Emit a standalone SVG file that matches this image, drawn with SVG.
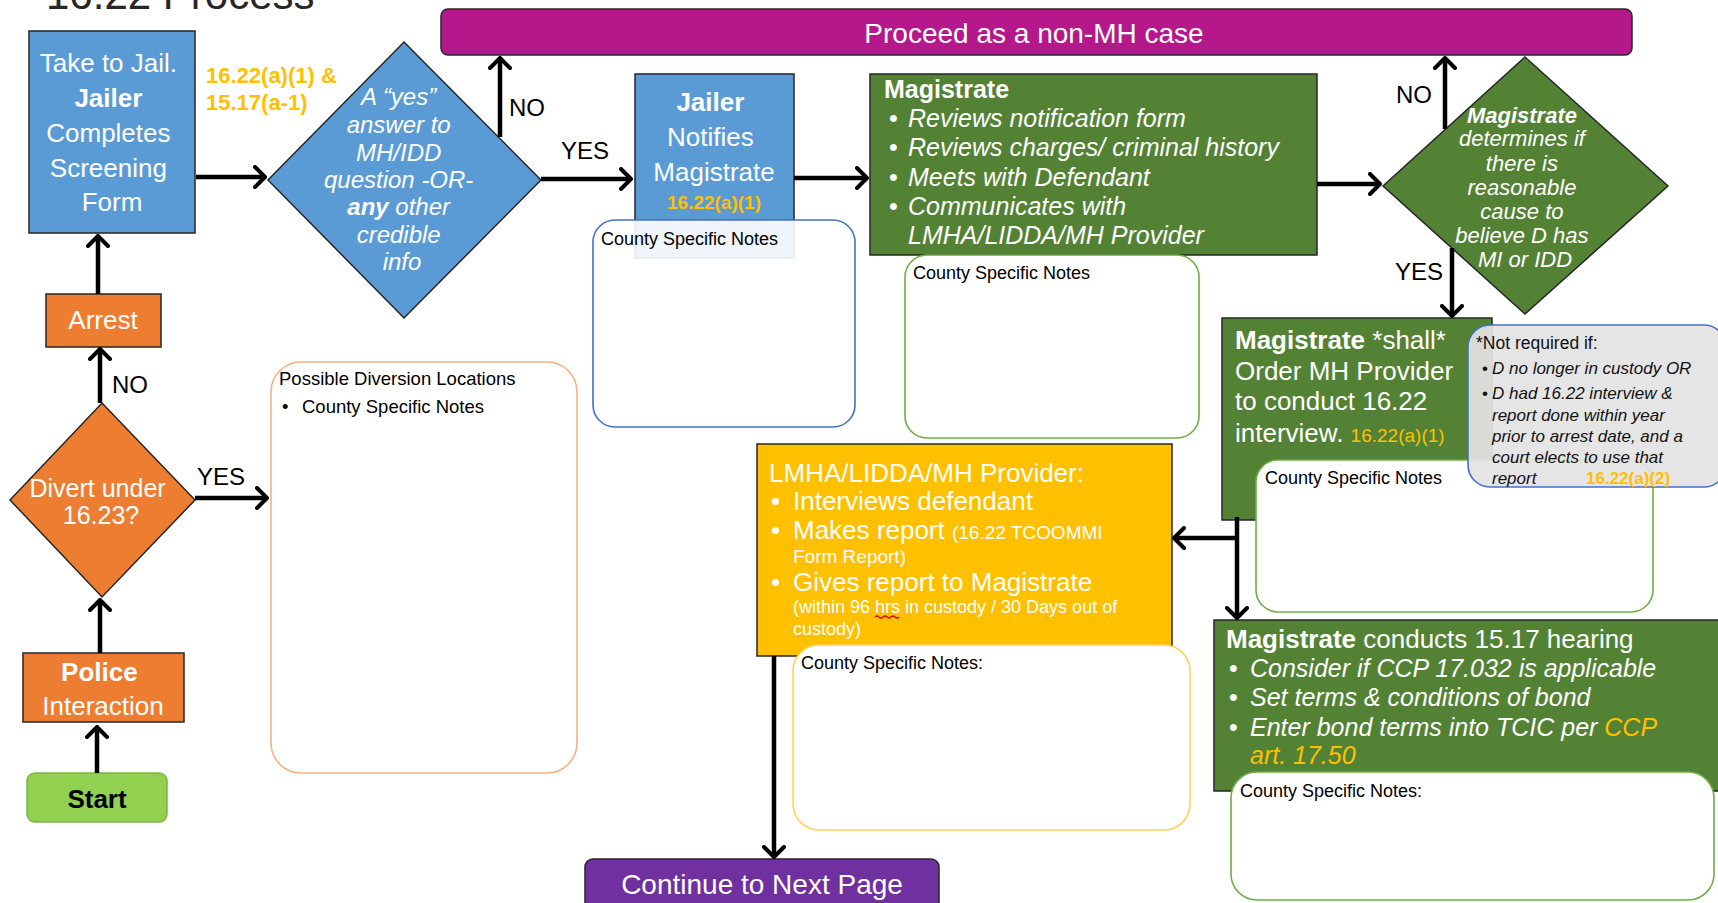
<svg xmlns="http://www.w3.org/2000/svg" width="1718" height="903" viewBox="0 0 1718 903">
<defs>
<style>
text{font-family:"Liberation Sans",Arial,sans-serif;}
.w{fill:#fff}
.k{fill:#000}
.o{fill:#FFC000}
.b{font-weight:bold}
.i{font-style:italic}
.c{text-anchor:middle}
.box{stroke:#262626;stroke-width:1.5}
.blue{fill:#5B9BD5}
.green{fill:#548235}
.orange{fill:#ED7D31}
.note{fill:#fff;stroke-width:1.6}
.conn line,.conn path{stroke:#000;stroke-width:4.5;fill:none;marker-end:url(#ah)}
.lbl{font-size:24px;fill:#000}
</style>
<marker id="ah" viewBox="0 0 14 24" refX="12" refY="12" markerWidth="14" markerHeight="24" markerUnits="userSpaceOnUse" orient="auto">
<path d="M2,2 L12,12 L2,22" fill="none" stroke="#000" stroke-width="4" stroke-linecap="round" stroke-linejoin="round"/>
</marker>
</defs>
<rect width="1718" height="903" fill="#fff"/>

<text x="46" y="9" font-size="42" fill="#262626">16.22 Process</text>

<g id="proceed">
<rect x="441" y="9" width="1191" height="46" rx="7" fill="#B5188A" class="box"/>
<text x="1034" y="43" font-size="28" class="w c">Proceed as a non-MH case</text>
</g>

<g id="jail">
<rect x="29" y="31" width="166" height="202" class="box blue"/>
<text font-size="26" class="w c">
<tspan x="112" y="72">Take to Jail.</tspan>
<tspan x="112" y="107" class="b">Jailer</tspan>
<tspan x="112" y="142">Completes</tspan>
<tspan x="112" y="177">Screening</tspan>
<tspan x="112" y="211">Form</tspan>
</text>
<text font-size="22" class="o b">
<tspan x="206" y="83">16.22(a)(1) &amp;</tspan>
<tspan x="206" y="110">15.17(a-1)</tspan>
</text>
</g>

<g id="mh-question">
<polygon points="404,42 541,180 404,318 268,180" class="box blue"/>
<text font-size="24" class="w c i">
<tspan x="402" y="105">A “yes”</tspan>
<tspan x="402" y="133">answer to</tspan>
<tspan x="402" y="161">MH/IDD</tspan>
<tspan x="402" y="188">question -OR-</tspan>
<tspan x="402" y="215"><tspan class="b">any</tspan> other</tspan>
<tspan x="402" y="243">credible</tspan>
<tspan x="402" y="270">info</tspan>
</text>
</g>

<g id="jailer-notifies">
<rect x="635" y="74" width="159" height="184" class="box blue"/>
<text font-size="26" class="w c">
<tspan x="714" y="111" class="b">Jailer</tspan>
<tspan x="714" y="146">Notifies</tspan>
<tspan x="714" y="181">Magistrate</tspan>
</text>
<text x="714" y="209" font-size="19" class="o b c">16.22(a)(1)</text>
</g>
<g id="jailer-notes">
<rect x="593" y="220" width="262" height="207" rx="22" class="note" fill-opacity="0.9" stroke="#4472C4"/>
<text x="601" y="245" font-size="18" class="k">County Specific Notes</text>
</g>

<g id="magistrate-review">
<rect x="870" y="74" width="447" height="181" class="box green"/>
<text x="884" y="98" font-size="25" class="w b">Magistrate</text>
<text font-size="25" class="w">
<tspan x="889" y="127">•</tspan><tspan x="908" y="127" class="i">Reviews notification form</tspan>
<tspan x="889" y="156">•</tspan><tspan x="908" y="156" class="i">Reviews charges/ criminal history</tspan>
<tspan x="889" y="186">•</tspan><tspan x="908" y="186" class="i">Meets with Defendant</tspan>
<tspan x="889" y="215">•</tspan><tspan x="908" y="215" class="i">Communicates with</tspan>
<tspan x="908" y="244" class="i">LMHA/LIDDA/MH Provider</tspan>
</text>
</g>
<g id="magistrate-notes">
<rect x="905" y="255" width="294" height="183" rx="22" class="note" stroke="#70AD47"/>
<text x="913" y="279" font-size="18" class="k">County Specific Notes</text>
</g>

<g id="reasonable-cause">
<polygon points="1525,57 1668,186 1525,314 1383,186" class="box green"/>
<text font-size="22" class="w c i">
<tspan x="1525" y="123" class="b">Magistrate</tspan>
<tspan x="1525" y="146">determines if</tspan>
<tspan x="1525" y="171">there is</tspan>
<tspan x="1525" y="195">reasonable</tspan>
<tspan x="1525" y="219">cause to</tspan>
<tspan x="1525" y="243">believe D has</tspan>
<tspan x="1525" y="267">MI or IDD</tspan>
</text>
</g>

<g id="shall-order">
<rect x="1222" y="318" width="270" height="202" class="box green"/>
<text font-size="26" class="w">
<tspan x="1235" y="349"><tspan class="b">Magistrate</tspan> *shall*</tspan>
<tspan x="1235" y="380">Order MH Provider</tspan>
<tspan x="1235" y="410">to conduct 16.22</tspan>
<tspan x="1235" y="442">interview. <tspan font-size="19" class="o">16.22(a)(1)</tspan></tspan>
</text>
</g>
<g id="shall-notes">
<rect x="1256" y="460" width="397" height="152" rx="22" class="note" stroke="#70AD47"/>
<text x="1265" y="484" font-size="18" class="k">County Specific Notes</text>
</g>
<g id="not-required">
<rect x="1468" y="325" width="258" height="162" rx="22" fill="#E3E3E3" fill-opacity="0.93" stroke="#4472C4" stroke-width="1.6"/>
<text x="1476" y="349" font-size="17.5" fill="#111">*Not required if:</text>
<text font-size="17" fill="#111">
<tspan x="1482" y="374">•</tspan><tspan x="1492" y="374" class="i">D no longer in custody OR</tspan>
<tspan x="1482" y="399">•</tspan><tspan x="1492" y="399" class="i">D had 16.22 interview &amp;</tspan>
<tspan x="1492" y="421" class="i">report done within year</tspan>
<tspan x="1492" y="442" class="i">prior to arrest date, and a</tspan>
<tspan x="1492" y="463" class="i">court elects to use that</tspan>
<tspan x="1492" y="484" class="i">report</tspan>
</text>
<text x="1586" y="484" font-size="17" class="o b">16.22(a)(2)</text>
</g>

<g id="provider">
<rect x="757" y="444" width="415" height="212" fill="#FFC000" class="box"/>
<text x="769" y="482" font-size="26" class="w">LMHA/LIDDA/MH Provider:</text>
<text font-size="26" class="w">
<tspan x="771" y="510">•</tspan><tspan x="793" y="510">Interviews defendant</tspan>
<tspan x="771" y="539">•</tspan><tspan x="793" y="539">Makes report <tspan font-size="19">(16.22 TCOOMMI</tspan></tspan>
<tspan x="793" y="563" font-size="19">Form Report)</tspan>
<tspan x="771" y="591">•</tspan><tspan x="793" y="591">Gives report to Magistrate</tspan>
<tspan x="793" y="613" font-size="18">(within 96 hrs in custody / 30 Days out of</tspan>
<tspan x="793" y="635" font-size="18">custody)</tspan>
</text>
<path d="M875,617 q2,-2 4,0 t4,0 t4,0 t4,0 t4,0 t4,0" fill="none" stroke="#E00000" stroke-width="1.2"/>
</g>
<g id="provider-notes">
<rect x="793" y="645" width="397" height="185" rx="26" class="note" stroke="#FFD25A"/>
<text x="801" y="669" font-size="18" class="k">County Specific Notes:</text>
</g>

<g id="hearing">
<rect x="1214" y="620" width="505" height="171" class="box green"/>
<text font-size="26" class="w">
<tspan x="1226" y="648"><tspan class="b">Magistrate</tspan> conducts 15.17 hearing</tspan>
</text>
<text font-size="25" class="w">
<tspan x="1229" y="677">•</tspan><tspan x="1250" y="677" class="i">Consider if CCP 17.032 is applicable</tspan>
<tspan x="1229" y="706">•</tspan><tspan x="1250" y="706" class="i">Set terms &amp; conditions of bond</tspan>
<tspan x="1229" y="736">•</tspan><tspan x="1250" y="736" class="i">Enter bond terms into TCIC per <tspan class="o">CCP</tspan></tspan>
<tspan x="1250" y="764" class="i o">art. 17.50</tspan>
</text>
</g>
<g id="hearing-notes">
<rect x="1231" y="772" width="483" height="128" rx="26" class="note" stroke="#70AD47"/>
<text x="1240" y="797" font-size="18" class="k">County Specific Notes:</text>
</g>

<g id="continue">
<rect x="585" y="859" width="354" height="60" rx="8" fill="#7030A0" class="box"/>
<text x="762" y="894" font-size="28" class="w c">Continue to Next Page</text>
</g>

<g id="arrest">
<rect x="46" y="294" width="115" height="53" class="box orange"/>
<text x="103" y="329" font-size="26" class="w c">Arrest</text>
</g>

<g id="divert">
<polygon points="102,403 195,500 102,597 10,500" class="box orange"/>
<text font-size="25" class="w c">
<tspan x="101" y="497">Divert under</tspan>
<tspan x="101" y="524">16.23?</tspan>
</text>
</g>

<g id="diversion-notes">
<rect x="271" y="362" width="306" height="411" rx="30" class="note" stroke="#F4B183"/>
<text x="279" y="385" font-size="18.5" class="k">Possible Diversion Locations</text>
<text x="282" y="413" font-size="18.5" class="k">•</text>
<text x="302" y="413" font-size="18.5" class="k">County Specific Notes</text>
</g>

<g id="police">
<rect x="23" y="653" width="161" height="69" class="box orange"/>
<text font-size="26" class="w c">
<tspan x="103" y="681" class="b">Police</tspan>
<tspan x="103" y="715">Interaction</tspan>
</text>
</g>

<g id="start">
<rect x="27" y="773" width="140" height="49" rx="8" fill="#92D050" stroke="#7FB449" stroke-width="1.5"/>
<text x="97" y="808" font-size="26" class="k b c">Start</text>
</g>

<g class="conn" id="connectors">
<line x1="97" y1="773" x2="97" y2="727"/>
<line x1="100" y1="653" x2="100" y2="600"/>
<line x1="100" y1="403" x2="100" y2="349"/>
<line x1="98" y1="294" x2="98" y2="236"/>
<line x1="195" y1="498" x2="267" y2="498"/>
<line x1="196" y1="177" x2="265" y2="177"/>
<line x1="500" y1="137" x2="500" y2="58"/>
<line x1="541" y1="179" x2="631" y2="179"/>
<line x1="794" y1="178" x2="867" y2="178"/>
<line x1="1317" y1="184" x2="1380" y2="184"/>
<line x1="1445" y1="129" x2="1445" y2="58"/>
<line x1="1452" y1="248" x2="1452" y2="316"/>
<line x1="1237" y1="517" x2="1237" y2="618"/>
<line x1="1237" y1="538" x2="1174" y2="538"/>
<line x1="774" y1="656" x2="774" y2="857"/>
</g>
<g id="labels">
<text x="509" y="116" class="lbl">NO</text>
<text x="561" y="159" class="lbl">YES</text>
<text x="1396" y="103" class="lbl">NO</text>
<text x="1395" y="280" class="lbl">YES</text>
<text x="112" y="393" class="lbl">NO</text>
<text x="197" y="485" class="lbl">YES</text>
</g>
</svg>
